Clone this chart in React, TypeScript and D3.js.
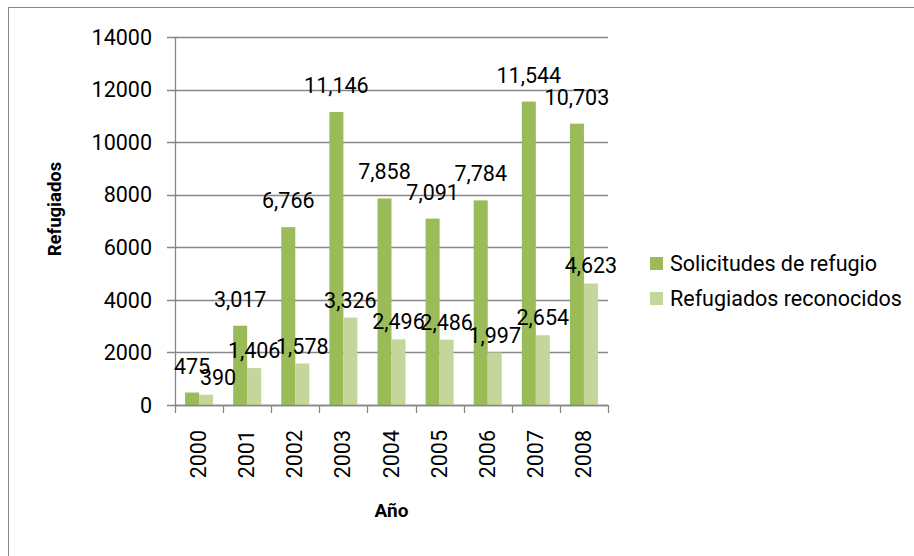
import React, { useRef, useEffect } from 'react';
import * as d3 from 'd3';

const years = ['2000', '2001', '2002', '2003', '2004', '2005', '2006', '2007', '2008'];
const solicitudes = [475, 3017, 6766, 11146, 7858, 7091, 7784, 11544, 10703];
const reconocidos = [390, 1406, 1578, 3326, 2496, 2486, 1997, 2654, 4623];
const seriesNames = ['Solicitudes de refugio', 'Refugiados reconocidos'];
const colors = ['#9BBB59', '#C3D69B'];
const yTicks = [0, 2000, 4000, 6000, 8000, 10000, 12000, 14000];

const App = () => {
  const svgRef = useRef<SVGSVGElement>(null);

  useEffect(() => {
    const svg = d3.select(svgRef.current);
    const width = 914;
    const height = 556;
    const margin = { top: 37, right: 306, bottom: 151, left: 175 };
    const font = 'Roboto, sans-serif';
    const gridColor = '#868686';

    svg.selectAll('*').remove();
    svg.attr('width', width).attr('height', height);

    // chart border
    svg.append('rect')
      .attr('x', 8.5).attr('y', 7.5)
      .attr('width', 1000).attr('height', 1000)
      .attr('fill', 'white')
      .attr('stroke', '#868686')
      .attr('stroke-width', 1);

    const x0 = d3.scaleBand()
      .domain(years)
      .range([margin.left, width - margin.right])
      .paddingInner(0.418)
      .paddingOuter(0.209);

    const x1 = d3.scaleBand()
      .domain(['0', '1'])
      .range([0, x0.bandwidth()]);

    const y = d3.scaleLinear()
      .domain([0, 14000])
      .range([height - margin.bottom, margin.top]);

    const x0Left = margin.left;
    const x0Right = width - margin.right;

    // gridlines + y ticks
    const yg = svg.append('g');
    yTicks.forEach(t => {
      yg.append('line')
        .attr('x1', x0Left - 8).attr('x2', x0Right)
        .attr('y1', Math.round(y(t)) + 0.5).attr('y2', Math.round(y(t)) + 0.5)
        .attr('stroke', gridColor).attr('stroke-width', 1.3);
      yg.append('text')
        .attr('x', x0Left - 23)
        .attr('y', y(t))
        .attr('dy', '0.36em')
        .attr('text-anchor', 'end')
        .style('font-family', font)
        .style('font-size', '21.5px')
        .attr('fill', '#000')
        .text(t);
    });

    // bars
    const all = [solicitudes, reconocidos];
    all.forEach((vals, s) => {
      svg.append('g').selectAll('rect')
        .data(vals)
        .join('rect')
        .attr('x', (d, i) => x0(years[i]) + x1(String(s)))
        .attr('y', d => y(d))
        .attr('width', x1.bandwidth())
        .attr('height', d => y(0) - y(d))
        .attr('fill', colors[s]);
    });

    // y axis line
    svg.append('line')
      .attr('x1', x0Left + 0.5).attr('x2', x0Left + 0.5)
      .attr('y1', y(14000)).attr('y2', y(0))
      .attr('stroke', gridColor).attr('stroke-width', 1.3);

    // x axis line + ticks between categories
    svg.append('line')
      .attr('x1', x0Left).attr('x2', x0Right)
      .attr('y1', Math.round(y(0)) + 0.5).attr('y2', Math.round(y(0)) + 0.5)
      .attr('stroke', gridColor).attr('stroke-width', 1.3);
    const step = x0.step();
    d3.range(years.length + 1).forEach(i => {
      const xt = Math.round(x0Left + i * step) + 0.5;
      svg.append('line')
        .attr('x1', xt).attr('x2', xt)
        .attr('y1', y(0)).attr('y2', y(0) + 8)
        .attr('stroke', gridColor).attr('stroke-width', 1.3);
    });

    // year labels rotated
    years.forEach(yr => {
      const cx = x0(yr) + x0.bandwidth() / 2;
      svg.append('text')
        .attr('transform', `translate(${cx + 7},430) rotate(-90)`)
        .attr('text-anchor', 'end')
        .style('font-family', font)
        .style('font-size', '21.5px')
        .attr('fill', '#000')
        .text(yr);
    });

    // data labels (light label nudged right when it would sit on the dark one)
    const fmt = d3.format(',');
    const labelOffset = [19, 10];
    all.forEach((vals, s) => {
      svg.append('g').selectAll('text')
        .data(vals)
        .join('text')
        .attr('x', (d, i) => {
          const base = x0(years[i]) + x1(String(s)) + x1.bandwidth() / 2;
          if (s === 1 && Math.abs(y(d) - y(solicitudes[i])) < 20) return base + 12;
          return base;
        })
        .attr('y', d => y(d) - labelOffset[s])
        .attr('text-anchor', 'middle')
        .style('font-family', font)
        .style('font-size', '21.5px')
        .attr('fill', '#000')
        .text(d => fmt(d));
    });

    // axis titles
    svg.append('text')
      .attr('x', (x0Left + x0Right) / 2)
      .attr('y', 517)
      .attr('text-anchor', 'middle')
      .style('font-family', font)
      .style('font-size', '19px')
      .style('font-weight', 'bold')
      .attr('fill', '#000')
      .text('Año');

    svg.append('text')
      .attr('transform', `translate(61,${(y(0) + y(14000)) / 2 - 12}) rotate(-90)`)
      .attr('text-anchor', 'middle')
      .style('font-family', font)
      .style('font-size', '18.5px')
      .style('font-weight', 'bold')
      .attr('fill', '#000')
      .text('Refugiados');

    // legend
    const legendGroup = svg.append('g').attr('transform', 'translate(650,257)');
    seriesNames.forEach((name, i) => {
      const row = legendGroup.append('g').attr('transform', `translate(0,${i * 35})`);
      row.append('rect')
        .attr('width', 13).attr('height', 13)
        .attr('fill', colors[i]);
      row.append('text')
        .attr('x', 20)
        .attr('y', 14)
        .style('font-family', font)
        .style('font-size', '21.5px')
        .attr('fill', '#000')
        .text(name);
    });
  }, []);

  return (
    <div style={{ position: 'absolute', left: 0, top: 0 }}>
      <svg ref={svgRef}></svg>
    </div>
  );
};

export default App;
